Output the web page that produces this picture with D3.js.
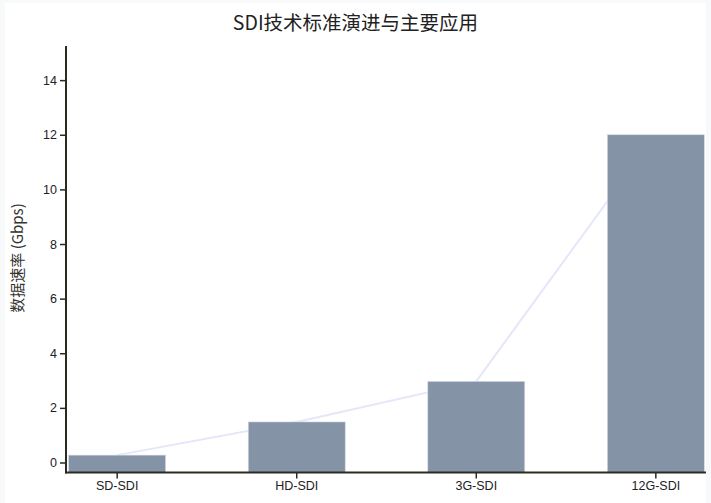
<!DOCTYPE html>
<html>
<head>
<meta charset="utf-8">
<script src="https://cdn.jsdelivr.net/npm/d3@7"></script>
<style>
  body { margin: 0; background: #f7f9fb; }
  svg { display: block; font-family: "Noto Sans CJK SC", "Noto Sans", sans-serif; }
  .axis text { font-size: 12.5px; fill: #222; }
  .axis line, .axis path { stroke: #2b2b22; }
</style>
</head>
<body>
<div id="chart"></div>
<script>
// data
var categories = ["SD-SDI", "HD-SDI", "3G-SDI", "12G-SDI"];
var rates = [0.27, 1.485, 2.97, 12];
var yTicks = [0, 2, 4, 6, 8, 10, 12, 14];

var W = 711, H = 503;

var svg = d3.select("#chart").append("svg")
  .attr("width", W)
  .attr("height", H);

// white panel
svg.append("rect")
  .attr("x", 5).attr("y", 3)
  .attr("width", 701).attr("height", 500)
  .attr("fill", "#fff");

svg.append("defs").append("clipPath").attr("id", "panel")
  .append("rect").attr("x", 5).attr("y", 3).attr("width", 701).attr("height", 500);

var g = svg.append("g").attr("clip-path", "url(#panel)");

var left = 66, bottom = 472.5;

var x = d3.scaleBand()
  .domain(categories)
  .range([left, 707])
  .paddingInner(0.46)
  .paddingOuter(0.015);

var y = d3.scaleLinear()
  .domain([0, 15.25])
  .range([462.5, 46]);

// trend line behind the bars
var line = d3.line()
  .x(function(d, i) { return x(categories[i]) + x.bandwidth() / 2; })
  .y(function(d) { return y(d); });

g.append("path")
  .datum(rates)
  .attr("d", line)
  .attr("fill", "none")
  .attr("stroke", "#e6e6fa")
  .attr("stroke-width", 2);

// bars
g.selectAll(".bar")
  .data(rates)
  .enter().append("rect")
  .attr("class", "bar")
  .attr("x", function(d, i) { return x(categories[i]); })
  .attr("y", function(d) { return y(d); })
  .attr("width", x.bandwidth())
  .attr("height", function(d) { return bottom - y(d); })
  .attr("fill", "#8593a6")
  .attr("stroke", "#d6dbe3")
  .attr("stroke-width", 0.6);

// y axis
var yAxis = g.append("g")
  .attr("class", "axis")
  .attr("transform", "translate(" + left + ",0)")
  .call(d3.axisLeft(y).tickValues(yTicks).tickSizeOuter(0));
yAxis.select(".domain").remove();
yAxis.selectAll(".tick line").attr("stroke-width", 1.5);

g.append("line")
  .attr("x1", left).attr("x2", left)
  .attr("y1", 46).attr("y2", bottom + 1)
  .attr("stroke", "#2b2b22")
  .attr("stroke-width", 2);

// x axis
var xAxis = g.append("g")
  .attr("class", "axis")
  .attr("transform", "translate(0," + bottom + ")")
  .call(d3.axisBottom(x).tickSizeOuter(0));
xAxis.select(".domain").remove();
xAxis.selectAll(".tick line").attr("stroke-width", 1.5);

g.append("line")
  .attr("x1", left - 1).attr("x2", 707)
  .attr("y1", bottom).attr("y2", bottom)
  .attr("stroke", "#2b2b22")
  .attr("stroke-width", 2);

// title
svg.append("text")
  .attr("x", 355.5)
  .attr("y", 30)
  .attr("text-anchor", "middle")
  .style("font-size", "19.5px")
  .style("fill", "#222")
  .text("SDI技术标准演进与主要应用");

// y label
svg.append("text")
  .attr("transform", "translate(23,258) rotate(-90)")
  .attr("text-anchor", "middle")
  .style("font-size", "15px")
  .style("fill", "#333")
  .text("数据速率 (Gbps)");
</script>
</body>
</html>
